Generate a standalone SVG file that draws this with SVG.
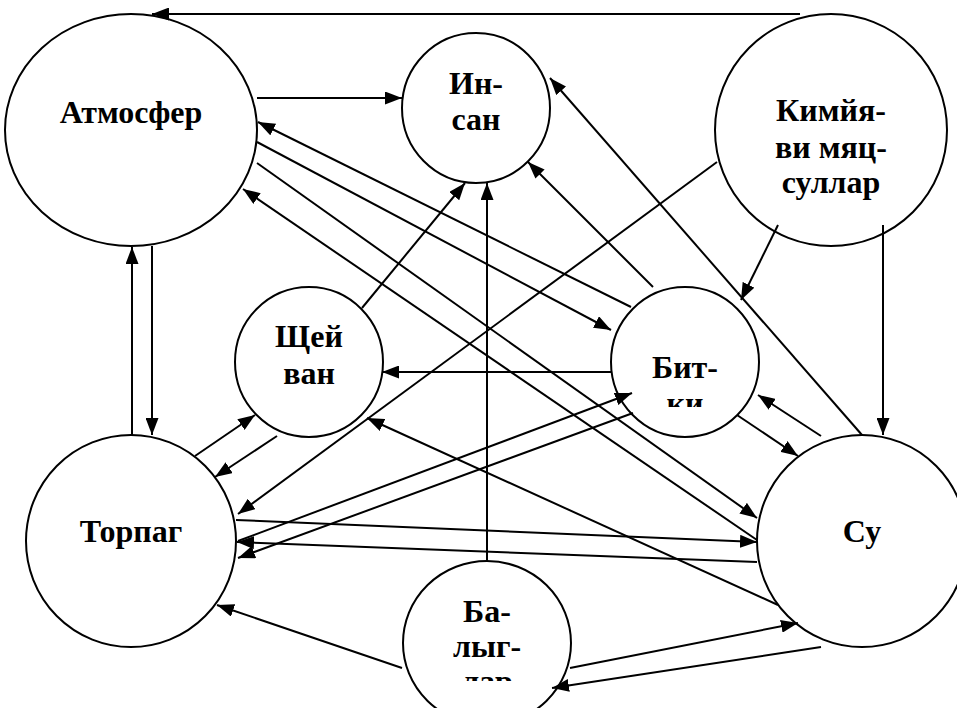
<svg xmlns="http://www.w3.org/2000/svg" width="957" height="708" viewBox="0 0 957 708">
  <style>
    .node { fill: #ffffff; stroke: #000000; stroke-width: 2; }
    .label { font-family: "Liberation Serif", "Times New Roman", serif; font-weight: bold; font-size: 32px; fill: #000000; text-anchor: middle; }
    .edge { stroke: #000000; stroke-width: 2; fill: none; marker-end: url(#arrow); }
  </style>
  <defs>
    <marker id="arrow" markerUnits="userSpaceOnUse" markerWidth="17" markerHeight="13" refX="17" refY="6.5" orient="auto">
      <path d="M0,0 L17,6.5 L0,13 z" fill="#000000"/>
    </marker>
    <clipPath id="clip-bitki"><rect x="600" y="280" width="170" height="127"/></clipPath>
    <clipPath id="clip-balyg"><rect x="395" y="555" width="190" height="126"/></clipPath>
  </defs>
  <rect width="957" height="708" fill="#ffffff"/>

  <!-- nodes -->
  <g id="atmosfer">
    <ellipse class="node" cx="131" cy="130" rx="126" ry="116"/>
    <text class="label" x="131" y="123">Атмосфер</text>
  </g>
  <g id="insan">
    <ellipse class="node" cx="476" cy="108" rx="74" ry="75"/>
    <text class="label" x="476" y="94">Ин-</text>
    <text class="label" x="476" y="130">сан</text>
  </g>
  <g id="kimya">
    <circle class="node" cx="831" cy="130" r="116"/>
    <text class="label" x="831" y="121">Кимйя-</text>
    <text class="label" x="831" y="158">ви мяц-</text>
    <text class="label" x="831" y="193">суллар</text>
  </g>
  <g id="shcheyvan">
    <ellipse class="node" cx="309" cy="362" rx="74" ry="75"/>
    <text class="label" x="309" y="347">Щей</text>
    <text class="label" x="309" y="384">ван</text>
  </g>
  <g id="bitki">
    <ellipse class="node" cx="685" cy="362" rx="74" ry="75"/>
    <g clip-path="url(#clip-bitki)">
      <text class="label" x="685" y="378">Бит-</text>
      <text class="label" x="685" y="414">ки</text>
    </g>
  </g>
  <g id="torpag">
    <ellipse class="node" cx="131" cy="541" rx="105" ry="106"/>
    <text class="label" x="131" y="542">Торпаг</text>
  </g>
  <g id="su">
    <ellipse class="node" cx="862" cy="541" rx="105" ry="106"/>
    <text class="label" x="862" y="542">Су</text>
  </g>
  <g id="balyglar">
    <ellipse class="node" cx="487" cy="643" rx="84" ry="82"/>
    <g clip-path="url(#clip-balyg)">
      <text class="label" x="487" y="622">Ба-</text>
      <text class="label" x="487" y="657">лыг-</text>
      <text class="label" x="487" y="692">лар</text>
    </g>
  </g>

  <!-- connectors -->
  <g id="connectors">
    <line class="edge" x1="800" y1="14" x2="152" y2="14"/>
    <line class="edge" x1="257" y1="98" x2="402" y2="98"/>
    <line class="edge" x1="631" y1="307" x2="258" y2="122"/>
    <line class="edge" x1="257" y1="142" x2="611" y2="330"/>
    <line class="edge" x1="257" y1="163" x2="757" y2="518"/>
    <line class="edge" x1="757" y1="540" x2="243" y2="189"/>
    <line class="edge" x1="362" y1="308" x2="465" y2="183"/>
    <line class="edge" x1="487" y1="562" x2="487" y2="183"/>
    <line class="edge" x1="653" y1="287" x2="528" y2="162"/>
    <line class="edge" x1="862" y1="435" x2="550" y2="78"/>
    <line class="edge" x1="778" y1="225" x2="741" y2="300"/>
    <line class="edge" x1="883" y1="225" x2="883" y2="435"/>
    <line class="edge" x1="717" y1="162" x2="238" y2="514"/>
    <line class="edge" x1="611" y1="372" x2="382" y2="372"/>
    <line class="edge" x1="132" y1="435" x2="132" y2="247"/>
    <line class="edge" x1="152" y1="246" x2="152" y2="435"/>
    <line class="edge" x1="195" y1="456" x2="255" y2="415"/>
    <line class="edge" x1="277" y1="436" x2="215" y2="477"/>
    <line class="edge" x1="778" y1="605" x2="367" y2="418"/>
    <line class="edge" x1="238" y1="541" x2="632" y2="393"/>
    <line class="edge" x1="633" y1="413" x2="238" y2="558"/>
    <line class="edge" x1="236" y1="520" x2="757" y2="542"/>
    <line class="edge" x1="757" y1="562" x2="237" y2="542"/>
    <line class="edge" x1="821" y1="436" x2="758" y2="395"/>
    <line class="edge" x1="737" y1="415" x2="798" y2="456"/>
    <line class="edge" x1="570" y1="668" x2="798" y2="623"/>
    <line class="edge" x1="821" y1="647" x2="552" y2="688"/>
    <line class="edge" x1="402" y1="668" x2="217" y2="605"/>
  </g>
</svg>
